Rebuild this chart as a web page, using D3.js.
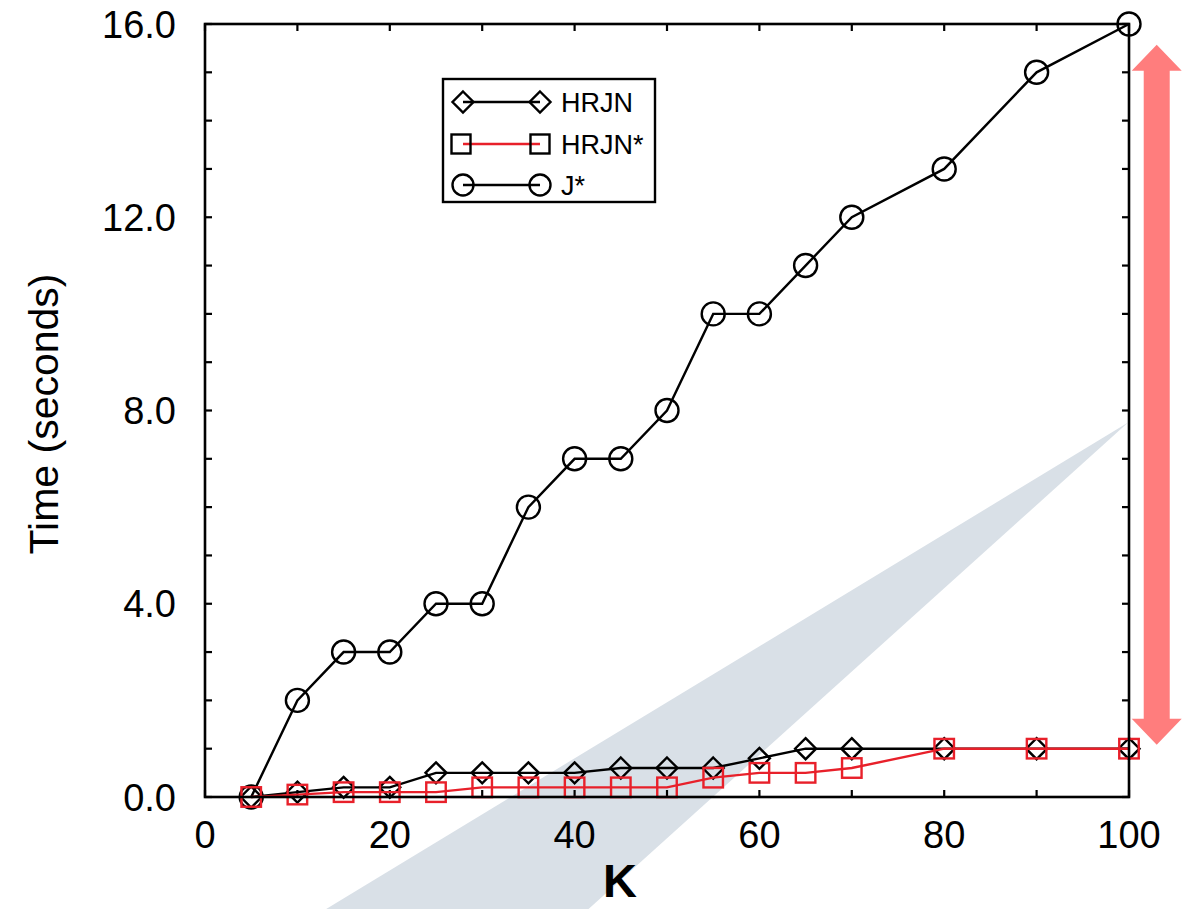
<!DOCTYPE html>
<html>
<head>
<meta charset="utf-8">
<script src="https://cdn.jsdelivr.net/npm/d3@7"></script>
<style>
  html, body { margin: 0; padding: 0; background: #fff; }
  svg { display: block; }
  text { font-family: "Liberation Sans", Arial, Helvetica, sans-serif; fill: #000; }
</style>
</head>
<body>
<svg id="chart" width="1191" height="909"></svg>
<script>
// ---------- data ----------
const kJ = [5, 10, 15, 20, 25, 30, 35, 40, 45, 50, 55, 60, 65, 70, 80, 90, 100];
const jStar = [0, 2, 3, 3, 4, 4, 6, 7, 7, 8, 10, 10, 11, 12, 13, 15, 16];
const hrjn = [0, 0.1, 0.2, 0.2, 0.5, 0.5, 0.5, 0.5, 0.6, 0.6, 0.6, 0.8, 1.0, 1.0, 1.0, 1.0, 1.0];
const hrjnStar = [0, 0.05, 0.1, 0.1, 0.1, 0.2, 0.2, 0.2, 0.2, 0.2, 0.4, 0.5, 0.5, 0.6, 1.0, 1.0, 1.0];
const seriesNames = ["HRJN", "HRJN*", "J*"];
const xTickLabels = [0, 20, 40, 60, 80, 100];
const yTickLabels = [0, 4, 8, 12, 16];
// annotation shapes (in data units)
const wedgeK = [99.9, 13.1, 41.5];
const wedgeT = [7.75, -2.32, -2.32];
const arrowK = 103.0;
const arrowT = [15.57, 1.08];

// ---------- layout ----------
const svg = d3.select("#chart");
const margin = { left: 205, top: 24, right: 62, bottom: 112 };
const W = 1191, H = 909;
const x = d3.scaleLinear().domain([0, 100]).range([margin.left, W - margin.right]);
const y = d3.scaleLinear().domain([0, 16]).range([H - margin.bottom, margin.top]);
const x0 = x(0), x1 = x(100), y0 = y(0), y1 = y(16);

const RED = "#e8202a";
const ARROW = "#ff7d7d";
const WEDGE = "#d9e0e7";
const SW = 2.4;

// ---------- background wedge ----------
svg.append("polygon")
  .attr("points", wedgeK.map((k, i) => [x(k), y(wedgeT[i])].join(",")).join(" "))
  .attr("fill", WEDGE);

// ---------- double arrow ----------
(function () {
  const ax = x(arrowK), top = y(arrowT[0]), bot = y(arrowT[1]);
  const hw = 25, sw = 13, hl = 26;
  const pts = [
    [ax, top], [ax + hw, top + hl], [ax + sw, top + hl], [ax + sw, bot - hl],
    [ax + hw, bot - hl], [ax, bot], [ax - hw, bot - hl], [ax - sw, bot - hl],
    [ax - sw, top + hl], [ax - hw, top + hl]
  ];
  svg.append("polygon").attr("points", pts.map(p => p.join(",")).join(" ")).attr("fill", ARROW);
})();

// ---------- ticks (inward, all four sides) ----------
const tl = 7;
const g = svg.append("g").attr("stroke", "#000").attr("stroke-width", 2.2);
d3.range(0, 101, 10).forEach(v => {
  g.append("line").attr("x1", x(v)).attr("x2", x(v)).attr("y1", y0).attr("y2", y0 - tl);
  g.append("line").attr("x1", x(v)).attr("x2", x(v)).attr("y1", y1).attr("y2", y1 + tl);
});
d3.range(0, 17, 1).forEach(v => {
  g.append("line").attr("x1", x0).attr("x2", x0 + tl).attr("y1", y(v)).attr("y2", y(v));
  g.append("line").attr("x1", x1).attr("x2", x1 - tl).attr("y1", y(v)).attr("y2", y(v));
});

// tick labels
svg.append("g").selectAll("text").data(xTickLabels).join("text")
  .attr("x", d => x(d)).attr("y", y0 + 51)
  .attr("text-anchor", "middle").style("font-size", "38px")
  .text(d => d);
svg.append("g").selectAll("text").data(yTickLabels).join("text")
  .attr("x", x0 - 29).attr("y", d => y(d) + 13.5)
  .attr("text-anchor", "end").style("font-size", "38px")
  .text(d => d3.format(".1f")(d));

// axis titles
svg.append("text").attr("x", 620).attr("y", 897)
  .attr("text-anchor", "middle").style("font-size", "47px").style("font-weight", "bold")
  .text("K");
svg.append("text")
  .attr("transform", `translate(58, ${414}) rotate(-90)`)
  .attr("text-anchor", "middle").style("font-size", "41px")
  .text("Time (seconds)");

// ---------- markers ----------
function diamond(sel, cx, cy, r, color) {
  sel.append("path")
    .attr("d", `M${cx},${cy - r}L${cx + r},${cy}L${cx},${cy + r}L${cx - r},${cy}Z`)
    .attr("fill", "none").attr("stroke", color).attr("stroke-width", SW);
}
function square(sel, cx, cy, s, color) {
  sel.append("rect").attr("x", cx - s / 2).attr("y", cy - s / 2)
    .attr("width", s).attr("height", s)
    .attr("fill", "none").attr("stroke", color).attr("stroke-width", SW);
}
function circle(sel, cx, cy, r, color) {
  sel.append("circle").attr("cx", cx).attr("cy", cy).attr("r", r)
    .attr("fill", "none").attr("stroke", color).attr("stroke-width", SW);
}

const line = d3.line().x(d => x(d[0])).y(d => y(d[1]));
const dJ = kJ.map((k, i) => [k, jStar[i]]);
const dH = kJ.map((k, i) => [k, hrjn[i]]);
const dHs = kJ.map((k, i) => [k, hrjnStar[i]]);

const plot = svg.append("g");
plot.append("path").attr("d", line(dJ)).attr("fill", "none").attr("stroke", "#000").attr("stroke-width", SW);
dJ.forEach(d => circle(plot, x(d[0]), y(d[1]), 11.5, "#000"));
plot.append("path").attr("d", line(dH)).attr("fill", "none").attr("stroke", "#000").attr("stroke-width", SW);
dH.forEach(d => diamond(plot, x(d[0]), y(d[1]), 10.5, "#000"));
plot.append("path").attr("d", line(dHs)).attr("fill", "none").attr("stroke", RED).attr("stroke-width", SW);
dHs.forEach(d => square(plot, x(d[0]), y(d[1]), 19.5, RED));

// ---------- frame ----------
svg.append("rect").attr("x", x0).attr("y", y1).attr("width", x1 - x0).attr("height", y0 - y1)
  .attr("fill", "none").attr("stroke", "#000").attr("stroke-width", 2.6);

// ---------- legend ----------
const leg = svg.append("g");
leg.append("rect").attr("x", 443).attr("y", 79).attr("width", 212).attr("height", 123)
  .attr("fill", "#fff").attr("stroke", "#000").attr("stroke-width", 2.4);
const rows = [102, 144, 185];
const lx1 = 463, lx2 = 540;
// HRJN
leg.append("line").attr("x1", lx1).attr("x2", lx2).attr("y1", rows[0]).attr("y2", rows[0]).attr("stroke", "#000").attr("stroke-width", SW);
diamond(leg, lx1, rows[0], 10.5, "#000");
diamond(leg, lx2, rows[0], 10.5, "#000");
// HRJN*
leg.append("line").attr("x1", lx1).attr("x2", lx2).attr("y1", rows[1]).attr("y2", rows[1]).attr("stroke", RED).attr("stroke-width", SW);
square(leg, lx1 - 2, rows[1], 19, "#000");
square(leg, lx2, rows[1], 19, "#000");
// J*
leg.append("line").attr("x1", lx1).attr("x2", lx2).attr("y1", rows[2]).attr("y2", rows[2]).attr("stroke", "#000").attr("stroke-width", SW);
circle(leg, lx1, rows[2], 10.5, "#000");
circle(leg, lx2, rows[2], 10.5, "#000");
leg.selectAll("text.lt").data(seriesNames).join("text")
  .attr("class", "lt")
  .attr("x", 561).attr("y", (d, i) => rows[i] + 10)
  .style("font-size", "27px")
  .text(d => d);
</script>
</body>
</html>
